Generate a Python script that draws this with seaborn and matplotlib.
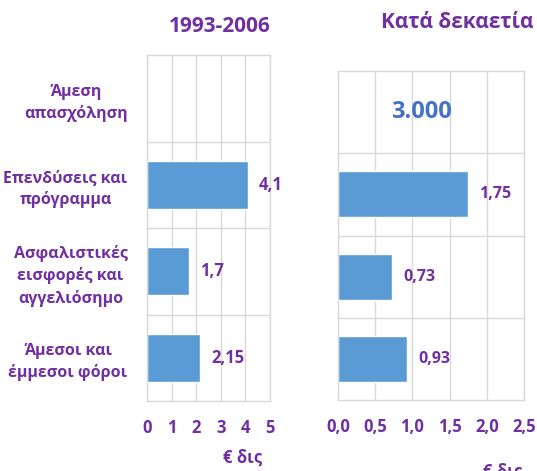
import matplotlib
matplotlib.use("Agg")
import matplotlib.pyplot as plt
import seaborn as sns
import numpy as np
from matplotlib.ticker import FuncFormatter

# data
categories = ["Άμεση\nαπασχόληση", "Επενδύσεις και\nπρόγραμμα",
              "Ασφαλιστικές\nεισφορές και\nαγγελιόσημο", "Άμεσοι και\nέμμεσοι φόροι"]
period_values = [np.nan, 4.1, 1.7, 2.15]
period_labels = ["", "4,1", "1,7", "2,15"]
decade_values = [np.nan, 1.75, 0.73, 0.93]
decade_labels = ["", "1,75", "0,73", "0,93"]
jobs_text = "3.000"
titles = ["1993-2006", "Κατά δεκαετία"]
unit = "€ δις"

PURPLE = "#7030A0"
BAR = "#5B9BD5"
GRID = "#D9D9D9"

sns.set_style("white")
plt.rcParams["font.family"] = ["Open Sans", "DejaVu Sans"]
plt.rcParams["font.weight"] = "bold"

fig = plt.figure(figsize=(5.37, 4.71), dpi=100)
ax1 = fig.add_axes([0.2737, 0.1486, 0.229, 0.7346])
ax2 = fig.add_axes([0.6294, 0.1507, 0.3464, 0.6985])


def style_axis(ax, xmax, step, fmt):
    ax.set_xlim(0, xmax)
    ax.set_ylim(3.5, -0.5)
    ax.set_xticks(np.arange(0, xmax + step / 2, step))
    ax.xaxis.set_major_formatter(FuncFormatter(fmt))
    ax.grid(axis="x", color=GRID, linewidth=1)
    ax.set_axisbelow(True)
    for b in [0.5, 1.5, 2.5]:
        ax.axhline(b, color=GRID, linewidth=1, zorder=0)
    for s in ax.spines.values():
        s.set_color(GRID)
        s.set_linewidth(1)
    ax.tick_params(axis="x", length=0, pad=13, labelsize=12, labelcolor=PURPLE)
    ax.tick_params(axis="y", length=0)
    for lbl in ax.get_xticklabels():
        lbl.set_fontweight("bold")


# left panel (missing value drawn as an empty slot)
sns.barplot(x=np.nan_to_num(period_values), y=list(range(len(categories))), orient="h",
            color=BAR, width=0.56, ax=ax1, saturation=1)
style_axis(ax1, 5, 1, lambda v, p: f"{v:.0f}")
ax1.set_yticks(range(len(categories)))
ax1.set_yticklabels(categories, fontsize=11.5, color=PURPLE, fontweight="bold",
                    multialignment="center", linespacing=1.4)
ax1.tick_params(axis="y", pad=14)
ax1.bar_label(ax1.containers[0], labels=period_labels, padding=8,
              fontsize=12, color=PURPLE, fontweight="bold")
ax1.set_xlabel(unit, fontsize=12, color=PURPLE, fontweight="bold")
ax1.xaxis.set_label_coords(0.78, -0.137)
ax1.set_ylabel("")

# right panel
sns.barplot(x=np.nan_to_num(decade_values), y=list(range(len(categories))), orient="h",
            color=BAR, width=0.56, ax=ax2, saturation=1)
style_axis(ax2, 2.5, 0.5, lambda v, p: f"{v:.1f}".replace(".", ","))
ax2.set_yticks(range(len(categories)))
ax2.set_yticklabels([])
ax2.bar_label(ax2.containers[0], labels=decade_labels, padding=8,
              fontsize=11.5, color=PURPLE, fontweight="bold")
ax2.text(0.45, 0, jobs_text, transform=ax2.get_yaxis_transform(),
         ha="center", va="center", fontsize=17, color="#4472C4", fontweight="bold")
ax2.set_xlabel(unit, fontsize=12, color=PURPLE, fontweight="bold")
ax2.xaxis.set_label_coords(0.887, -0.19)
ax2.set_ylabel("")

fig.text(220 / 537, 1 - 26 / 471, titles[0], ha="center", va="center",
         fontsize=15, color=PURPLE, fontweight="bold")
fig.text(457 / 537, 1 - 22 / 471, titles[1], ha="center", va="center",
         fontsize=15, color=PURPLE, fontweight="bold")

fig.savefig("out.png", dpi=100)
